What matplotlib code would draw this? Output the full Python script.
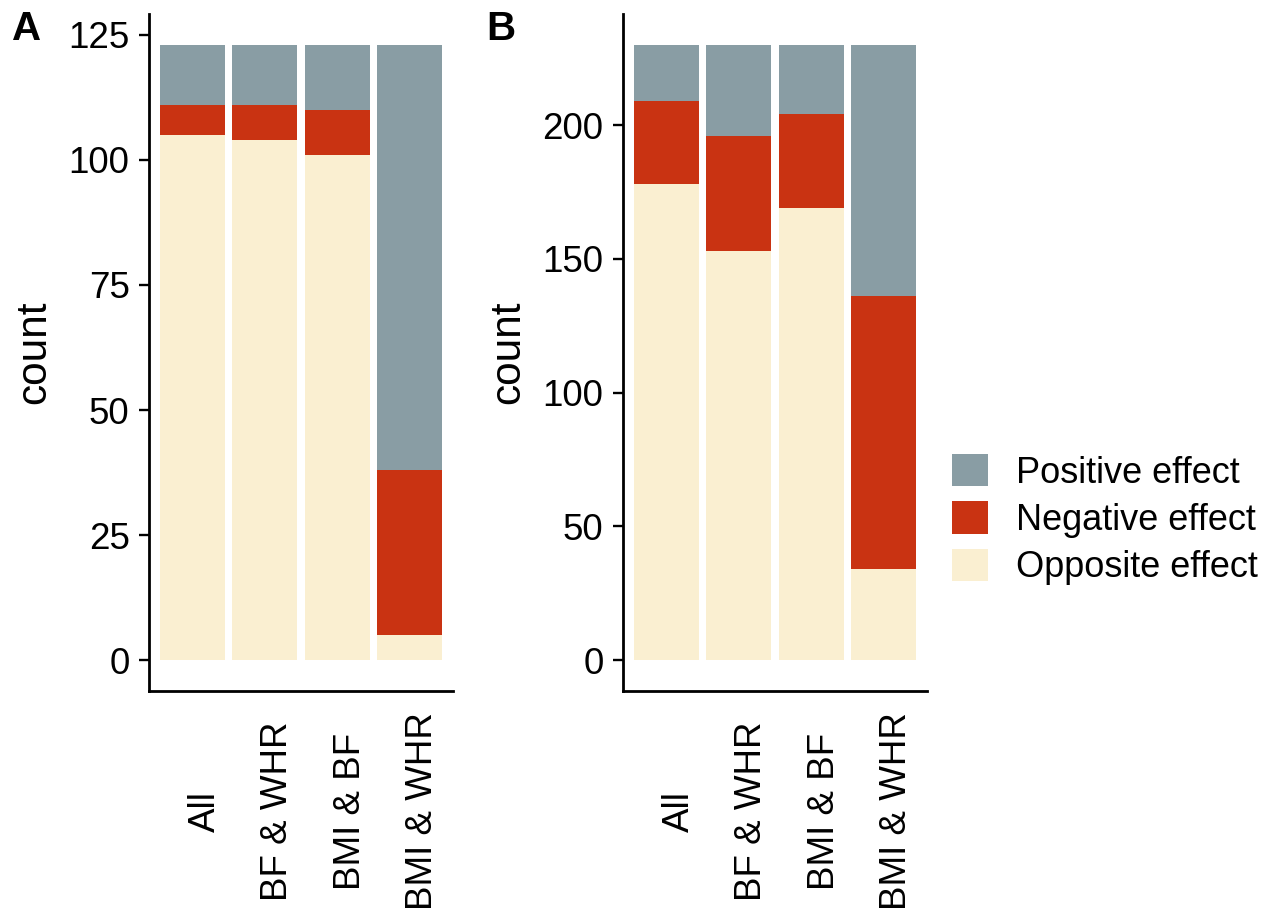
import numpy as np
import matplotlib.pyplot as plt
from matplotlib.patches import Patch
from matplotlib.transforms import blended_transform_factory, ScaledTranslation

plt.rcParams['font.family'] = ['Liberation Sans', 'DejaVu Sans']

categories = ['All', 'BF & WHR', 'BMI & BF', 'BMI & WHR']
effects = ['Positive effect', 'Negative effect', 'Opposite effect']
colors = {'Positive effect': '#899DA4', 'Negative effect': '#C93312',
          'Opposite effect': '#FAEFD1'}

# panel A counts
a_opposite = [105, 104, 101, 5]
a_negative = [6, 7, 9, 33]
a_positive = [12, 12, 13, 85]

# panel B counts
b_opposite = [178, 153, 169, 34]
b_negative = [31, 43, 35, 102]
b_positive = [21, 34, 26, 94]

W, H = 1271, 909
fig = plt.figure(figsize=(W / 100, H / 100), dpi=100)


def panel(rect, opp, neg, pos, yticks, letter):
    ax = fig.add_axes(rect)
    x = np.arange(1, len(categories) + 1)
    opp = np.array(opp)
    neg = np.array(neg)
    pos = np.array(pos)
    ax.bar(x, opp, width=0.9, color=colors['Opposite effect'])
    ax.bar(x, neg, width=0.9, bottom=opp, color=colors['Negative effect'])
    ax.bar(x, pos, width=0.9, bottom=opp + neg, color=colors['Positive effect'])
    top = (opp + neg + pos).max()
    ax.set_xlim(0.4, len(categories) + 0.6)
    ax.set_ylim(-0.05 * top, 1.05 * top)
    ax.set_yticks(yticks)
    ax.set_xticks(x)
    ax.set_xticklabels([])
    ax.tick_params(axis='x', length=0)
    ax.tick_params(axis='y', length=7, width=1.7, pad=7, labelsize=26.5,
                   labelcolor='black')
    for s in ['top', 'right']:
        ax.spines[s].set_visible(False)
    for s in ['left', 'bottom']:
        ax.spines[s].set_linewidth(2.0)
    ax.set_ylabel('count', fontsize=30.5, labelpad=10)
    tr = blended_transform_factory(ax.transData, ax.transAxes) + \
        ScaledTranslation(0.13, -1.20, fig.dpi_scale_trans)
    for xi, lab in zip(x, categories):
        ax.text(xi, 0, lab, rotation=90, ha='center', va='center',
                fontsize=26.5, transform=tr)
    fig.text(rect[0] - 137 / W, 1 - 10 / H, letter, fontsize=29,
             fontweight='bold', ha='left', va='top')
    return ax


axA = panel([149 / W, 1 - 691 / H, 304 / W, 677 / H],
            a_opposite, a_negative, a_positive, [0, 25, 50, 75, 100, 125], 'A')
axB = panel([623 / W, 1 - 691 / H, 304 / W, 677 / H],
            b_opposite, b_negative, b_positive, [0, 50, 100, 150, 200], 'B')

handles = [Patch(facecolor=colors[e], edgecolor='none') for e in effects]
fig.legend(handles, effects, loc='upper left',
           bbox_to_anchor=(952 / W, 1 - 454 / H), frameon=False,
           fontsize=26, handlelength=1.0, handleheight=1.0,
           handletextpad=0.78, labelspacing=0.3, borderpad=0,
           borderaxespad=0)

fig.savefig('out.png', dpi=100)
